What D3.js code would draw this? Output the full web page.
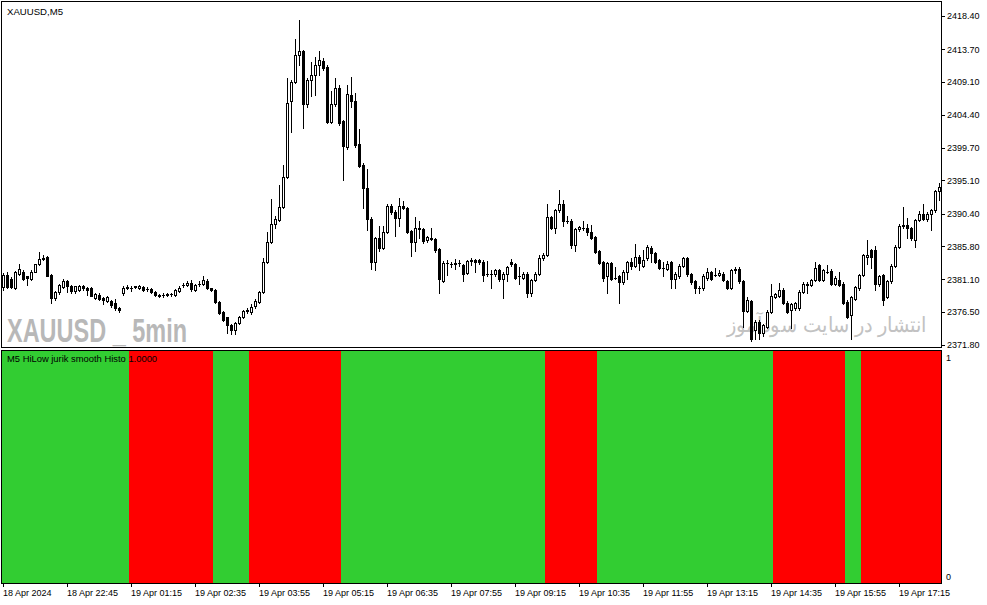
<!DOCTYPE html>
<html><head><meta charset="utf-8">
<script src="https://cdn.jsdelivr.net/npm/d3@7"></script>
<style>
html,body{margin:0;padding:0;background:#fff;}
svg{display:block;}
text{font-family:"Liberation Sans",Arial,sans-serif;}
</style></head>
<body><svg id="c" width="987" height="605"></svg>
<script>
// ---------- DATA ----------
const opens = [2380.0,2381.7,2381.2,2379.9,2381.9,2382.2,2381.5,2381.2,2382.2,2383.2,2384.0,2384.2,2381.7,2378.4,2379.3,2380.0,2380.9,2380.1,2379.4,2379.6,2380.1,2379.8,2379.8,2378.5,2378.9,2378.4,2378.0,2378.0,2377.7,2377.1,
2379.1,2379.8,2379.9,2380.0,2379.8,2380.0,2379.7,2379.7,2379.3,2378.9,2378.9,2378.9,2379.0,2378.9,2379.4,2380.3,2380.3,2380.6,2379.6,2380.5,2380.4,2380.9,2379.8,2379.6,2377.9,2376.5,2375.7,2374.6,2373.9,2374.9,
2375.8,2376.6,2376.4,2377.3,2377.9,2379.3,2383.6,2386.4,2389.0,2389.5,2391.4,2395.6,2406.3,2409.1,2412.9,2413.4,2406.0,2409.3,2410.0,2411.4,2412.0,2411.2,2403.4,2405.9,2408.2,2403.5,2399.9,2407.2,2406.4,2400.3,
2397.3,2394.0,2389.7,2383.5,2386.9,2385.6,2387.8,2391.5,2390.7,2389.8,2391.5,2391.2,2387.9,2386.4,2388.4,2388.2,2386.6,2387.0,2386.8,2385.4,2380.9,2383.4,2383.3,2383.3,2383.4,2383.1,2382.0,2383.7,2383.8,2383.8,
2383.6,2381.8,2381.9,2381.8,2382.4,2381.1,2381.9,2383.6,2383.2,2381.5,2381.3,2381.9,2379.2,2381.0,2381.9,2384.1,2384.6,2389.9,2388.4,2390.9,2391.7,2389.3,2389.4,2386.0,2388.2,2388.3,2388.3,2387.8,2387.1,2385.1,
2383.5,2381.5,2383.4,2381.3,2381.5,2380.7,2382.1,2383.5,2383.0,2384.3,2383.0,2384.1,2385.6,2384.8,2383.8,2382.7,2382.6,2383.5,2381.1,2381.5,2383.0,2384.1,2381.9,2380.8,2379.9,2379.8,2381.3,2382.1,2381.7,2381.7,
2381.9,2380.8,2379.9,2382.4,2382.5,2380.8,2376.6,2378.0,2373.9,2375.1,2373.5,2374.4,2376.5,2378.6,2378.8,2379.6,2377.8,2376.7,2377.0,2377.0,2379.3,2380.5,2380.3,2381.0,2383.1,2381.0,2382.2,2382.3,2380.5,2381.0,
2380.5,2377.9,2376.0,2378.3,2379.8,2381.7,2384.3,2385.2,2385.2,2380.4,2381.7,2378.6,2380.8,2383.0,2385.7,2388.7,2388.8,2388.3,2386.7,2389.5,2390.3,2389.7,2390.3,2390.9,2393.6];
const highs = [2382.0,2382.2,2381.4,2382.3,2383.2,2382.4,2381.6,2382.4,2383.3,2384.9,2384.5,2384.4,2381.8,2379.5,2380.5,2381.1,2381.0,2380.3,2380.2,2380.3,2380.3,2380.0,2380.0,2379.2,2379.1,2378.6,2378.8,2378.2,2378.3,2377.2,
2380.1,2380.3,2380.2,2380.2,2380.3,2380.2,2380.0,2379.9,2379.4,2379.0,2379.1,2379.1,2379.1,2379.7,2380.1,2380.6,2380.9,2381.0,2380.4,2380.8,2381.6,2381.2,2379.9,2379.7,2378.0,2376.6,2375.8,2374.7,2375.0,2375.9,
2376.8,2377.1,2377.6,2378.3,2379.5,2384.1,2387.8,2392.5,2390.0,2394.5,2397.3,2409.6,2409.3,2415.1,2417.8,2413.6,2409.6,2411.9,2412.6,2413.5,2412.4,2411.4,2407.8,2409.6,2408.6,2403.7,2408.6,2409.7,2407.5,2402.4,
2397.6,2396.7,2389.9,2387.1,2388.7,2388.7,2391.7,2391.7,2390.9,2392.6,2392.2,2391.4,2388.1,2389.9,2389.3,2388.4,2387.3,2388.4,2387.0,2385.6,2383.7,2383.8,2383.6,2384.0,2383.9,2383.3,2383.9,2384.1,2384.0,2384.0,
2383.8,2383.7,2382.4,2382.6,2382.6,2382.1,2383.0,2384.0,2383.4,2382.9,2382.1,2382.1,2381.2,2382.1,2384.5,2384.8,2391.7,2390.1,2391.1,2393.7,2392.3,2390.0,2389.6,2388.4,2388.7,2389.4,2389.0,2388.8,2387.3,2385.3,
2383.7,2383.6,2383.6,2382.9,2381.7,2382.4,2383.7,2384.1,2386.1,2384.5,2385.2,2386.0,2385.8,2385.0,2384.0,2383.5,2383.7,2383.7,2382.1,2383.2,2384.3,2384.3,2382.0,2381.0,2380.2,2381.9,2382.7,2382.3,2382.7,2382.4,
2382.1,2381.0,2382.6,2382.9,2382.9,2381.0,2378.6,2378.2,2375.4,2375.3,2374.8,2376.7,2380.5,2379.2,2380.6,2379.8,2378.0,2377.8,2377.9,2379.6,2380.7,2380.7,2381.2,2383.6,2383.3,2382.6,2383.1,2382.5,2381.5,2382.2,
2380.7,2378.1,2378.8,2380.2,2381.9,2384.7,2386.7,2385.4,2385.8,2381.7,2381.9,2381.0,2383.2,2385.9,2388.9,2391.4,2389.8,2388.5,2389.7,2390.8,2391.7,2390.7,2391.1,2393.8,2394.7];
const lows = [2379.6,2379.8,2379.8,2379.7,2381.7,2381.0,2380.3,2381.0,2382.1,2383.1,2383.8,2381.5,2377.7,2378.2,2379.0,2379.8,2379.3,2379.2,2379.2,2379.4,2379.6,2378.9,2378.7,2378.3,2378.1,2377.6,2377.9,2377.2,2376.7,2376.5,
2378.9,2379.7,2379.5,2379.9,2379.7,2379.5,2379.4,2379.2,2378.8,2378.6,2378.6,2378.8,2378.8,2378.8,2379.3,2380.0,2380.2,2379.5,2379.5,2380.2,2380.3,2379.7,2379.5,2377.8,2376.2,2375.2,2373.5,2373.3,2373.4,2374.7,
2375.6,2376.3,2376.2,2377.0,2377.7,2379.1,2383.4,2386.2,2388.3,2389.3,2391.2,2395.4,2402.0,2408.9,2411.5,2402.6,2405.5,2407.0,2407.2,2410.0,2410.8,2403.2,2403.2,2405.7,2403.0,2395.2,2399.6,2405.5,2399.8,2397.0,
2391.2,2388.1,2382.6,2382.4,2385.1,2385.4,2387.6,2390.4,2387.2,2388.7,2391.0,2387.6,2384.4,2385.1,2386.9,2386.3,2386.4,2386.6,2385.0,2379.1,2380.7,2381.7,2382.9,2382.6,2383.0,2380.9,2381.8,2383.1,2382.2,2383.3,
2380.8,2381.5,2379.9,2381.6,2380.9,2378.4,2380.9,2383.0,2381.1,2380.4,2381.1,2378.6,2378.8,2380.8,2381.7,2383.9,2384.4,2388.2,2387.6,2390.7,2388.6,2389.1,2385.6,2385.1,2388.0,2388.1,2387.4,2386.8,2384.8,2383.2,
2380.8,2379.2,2381.0,2381.1,2377.8,2380.5,2381.2,2382.6,2382.8,2382.4,2382.8,2383.9,2383.5,2383.4,2382.5,2381.5,2382.4,2379.8,2379.8,2381.3,2382.8,2381.6,2380.5,2379.1,2379.1,2379.6,2381.0,2381.0,2381.5,2381.5,
2380.8,2379.7,2379.7,2382.0,2380.6,2374.4,2376.4,2372.3,2372.7,2372.7,2373.0,2374.2,2376.3,2378.4,2378.6,2377.6,2376.3,2374.2,2376.8,2376.8,2379.1,2379.1,2380.1,2380.8,2380.8,2380.8,2382.0,2380.3,2380.3,2380.1,
2377.6,2375.6,2372.7,2378.1,2379.6,2381.5,2383.2,2382.7,2379.6,2380.2,2377.5,2378.4,2380.6,2382.8,2385.5,2388.4,2386.9,2386.7,2385.7,2389.3,2389.5,2389.3,2388.1,2390.7,2392.3];
const closes = [2381.7,2380.0,2380.0,2382.1,2382.5,2381.2,2381.3,2382.2,2383.2,2384.0,2384.1,2381.6,2378.4,2379.3,2380.3,2380.8,2380.1,2379.4,2380.1,2380.1,2379.8,2379.6,2378.8,2379.0,2378.3,2378.2,2378.6,2377.4,2377.0,2376.7,
2379.8,2380.0,2379.9,2380.1,2380.1,2379.6,2379.7,2379.3,2378.9,2378.8,2378.9,2379.0,2379.0,2379.6,2379.9,2380.3,2380.6,2379.7,2380.3,2380.5,2381.0,2379.8,2379.6,2377.9,2376.3,2375.3,2374.6,2373.9,2374.9,2375.7,
2376.6,2376.7,2377.2,2378.0,2379.3,2383.6,2386.4,2389.0,2389.7,2391.4,2395.6,2406.1,2409.1,2412.9,2413.4,2406.0,2409.3,2410.0,2411.5,2412.2,2411.1,2403.4,2405.9,2408.2,2403.3,2400.0,2407.3,2406.4,2400.1,2397.2,
2394.0,2389.7,2383.5,2386.9,2385.6,2387.8,2391.5,2390.6,2389.8,2391.5,2391.2,2387.8,2386.4,2388.4,2388.2,2386.5,2387.1,2386.8,2385.2,2381.1,2383.4,2383.4,2383.2,2383.4,2383.4,2381.9,2383.7,2383.8,2383.6,2383.5,
2381.7,2381.8,2381.9,2382.4,2381.1,2381.9,2382.8,2383.2,2381.3,2381.5,2381.9,2379.1,2381.0,2381.9,2384.1,2384.6,2389.9,2388.4,2390.9,2391.7,2389.3,2389.3,2386.0,2388.2,2388.5,2388.3,2387.8,2387.0,2385.0,2383.4,
2381.3,2383.4,2381.2,2381.3,2380.7,2382.1,2383.5,2383.0,2384.2,2383.4,2383.9,2385.7,2384.8,2383.6,2382.7,2382.7,2383.2,2381.1,2381.9,2383.0,2384.1,2381.8,2380.7,2379.8,2379.9,2381.6,2382.1,2381.2,2381.7,2382.0,
2381.0,2379.9,2382.4,2382.5,2380.8,2376.6,2378.2,2372.7,2375.1,2373.5,2374.6,2376.5,2378.8,2379.0,2379.6,2377.8,2376.5,2377.6,2377.7,2379.3,2380.5,2380.3,2381.0,2382.7,2381.0,2382.4,2382.2,2380.5,2381.3,2380.3,
2377.8,2375.8,2378.6,2380.0,2381.7,2384.5,2384.6,2384.3,2380.4,2381.5,2378.2,2380.8,2383.0,2385.7,2388.7,2388.8,2388.3,2386.9,2389.5,2390.3,2389.7,2390.3,2390.9,2393.6,2394.2];

const priceTicks = [2418.40,2413.70,2409.10,2404.40,2399.70,2395.10,2390.40,2385.80,2381.10,2376.50,2371.80];
const timeTickBars = [0,16,32,48,64,80,96,112,128,144,160,176,192,208,224];
const timeLabels = ["18 Apr 2024","18 Apr 22:45","19 Apr 01:15","19 Apr 02:35","19 Apr 03:55","19 Apr 05:15","19 Apr 06:35","19 Apr 07:55","19 Apr 09:15","19 Apr 10:35","19 Apr 11:55","19 Apr 13:15","19 Apr 14:35","19 Apr 15:55","19 Apr 17:15"];
// indicator: run-length of states (1 = up/green, 0 = down/red), each bar value 1
const histoStates  = [1,0,1,0,1,0,1,0,1,0];
const histoLengths = [32,21,9,23,51,13,44,18,4,20];
const histoTicks = [0,1];
const symbolTitle = "XAUUSD,M5";
const indicatorTitle = "M5 HiLow jurik smooth Histo 1.0000";

// ---------- CHART ----------
const svg = d3.select("#c");
const N = opens.length;
const bars = d3.range(N).map(i => ({i, o: opens[i], h: highs[i], l: lows[i], c: closes[i]}));
const histo = [];
histoStates.forEach((s, k) => { for (let j = 0; j < histoLengths[k]; j++) histo.push({i: histo.length, s, v: 1}); });

const x = d3.scaleBand().domain(d3.range(N)).range([1, 941]).padding(0);
const y = d3.scaleLinear().domain([2371.51, 2420.38]).range([347, 2]);
const yH = d3.scaleLinear().domain([0, 1]).range([583, 351]);

svg.append("rect").attr("width", 987).attr("height", 605).attr("fill", "#fff");

const defs = svg.append("defs");
defs.append("clipPath").attr("id", "cm").append("rect").attr("x", 2).attr("y", 2).attr("width", 939).attr("height", 345);
defs.append("clipPath").attr("id", "ci").append("rect").attr("x", 2).attr("y", 351).attr("width", 939).attr("height", 232);

// watermarks
const wm = svg.append("g").attr("clip-path", "url(#cm)");
wm.append("text").attr("x", 7).attr("y", 341.5)
  .attr("font-family", "'Liberation Sans Narrow','Liberation Sans',Arial,sans-serif")
  .attr("font-weight", "bold").attr("font-size", 33).attr("fill", "#b8b8b8")
  .attr("textLength", 180).attr("lengthAdjust", "spacingAndGlyphs")
  .text("XAUUSD _ 5min");
wm.append("text").attr("x", 827).attr("y", 332).attr("text-anchor", "middle")
  .attr("font-family", "'DejaVu Sans',sans-serif").attr("font-size", 21).attr("fill", "#c2c2c2")
  .attr("textLength", 200).attr("lengthAdjust", "spacingAndGlyphs")
  .text("انتشار در سایت سودآموز");

// candles
const cg = svg.append("g").attr("clip-path", "url(#cm)").attr("shape-rendering", "crispEdges");
cg.selectAll("rect.wick").data(bars).join("rect").attr("class", "wick")
  .attr("x", d => x(d.i) + 2)
  .attr("y", d => Math.round(y(d.h)))
  .attr("width", 1)
  .attr("height", d => Math.max(1, Math.round(y(d.l)) - Math.round(y(d.h)) + 1))
  .attr("fill", "#000");
cg.selectAll("rect.body").data(bars).join("rect").attr("class", "body")
  .each(function(d) {
    const t = Math.round(y(Math.max(d.o, d.c))), b = Math.round(y(Math.min(d.o, d.c)));
    const s = d3.select(this);
    if (b - t < 1) {
      s.attr("x", x(d.i) + 1).attr("y", t).attr("width", 3).attr("height", 1).attr("fill", "#000");
    } else if (d.c > d.o) {
      s.attr("x", x(d.i) + 1.5).attr("y", t + 0.5).attr("width", 2).attr("height", b - t)
       .attr("fill", "#fff").attr("stroke", "#000").attr("stroke-width", 1).attr("shape-rendering", "auto");
    } else {
      s.attr("x", x(d.i) + 1).attr("y", t).attr("width", 3).attr("height", b - t + 1).attr("fill", "#000");
    }
  });

// indicator histogram
const hg = svg.append("g").attr("clip-path", "url(#ci)").attr("shape-rendering", "crispEdges");
hg.selectAll("rect").data(histo).join("rect")
  .attr("x", d => x(d.i)).attr("width", x.bandwidth())
  .attr("y", d => yH(d.v)).attr("height", d => yH(0) - yH(d.v))
  .attr("fill", d => d.s === 1 ? "#32cd32" : "#ff0000");

// frames
svg.append("rect").attr("x", 1.5).attr("y", 1.5).attr("width", 940).attr("height", 346)
  .attr("fill", "none").attr("stroke", "#000");
svg.append("rect").attr("x", 1.5).attr("y", 350.5).attr("width", 940).attr("height", 233)
  .attr("fill", "none").attr("stroke", "#000");

// price axis
const pa = svg.append("g").attr("transform", "translate(941,0)")
  .call(d3.axisRight(y).tickValues(priceTicks).tickFormat(d3.format(".2f")).tickSize(4).tickPadding(2));
pa.select(".domain").remove();
pa.selectAll("line").attr("shape-rendering", "crispEdges");
pa.selectAll("text").attr("font-size", 9).attr("font-family", "'Liberation Sans',Arial,sans-serif").attr("fill", "#000");

// indicator axis
const ia = svg.append("g").attr("transform", "translate(941,0)")
  .call(d3.axisRight(yH).tickValues(histoTicks).tickFormat(d3.format("d")).tickSize(0).tickPadding(5));
ia.select(".domain").remove();
ia.selectAll("text").attr("font-size", 9).attr("font-family", "'Liberation Sans',Arial,sans-serif").attr("fill", "#000")
  .attr("y", d => d === 1 ? 6.5 : -6);

// time axis
const ta = svg.append("g").attr("transform", "translate(0,583)")
  .call(d3.axisBottom(x).tickValues(timeTickBars).tickFormat((d, k) => timeLabels[k]).tickSize(4).tickPadding(3));
ta.select(".domain").remove();
ta.selectAll("line").attr("shape-rendering", "crispEdges");
ta.selectAll("text").attr("font-size", 9).attr("font-family", "'Liberation Sans',Arial,sans-serif").attr("fill", "#000")
  .attr("text-anchor", "start").attr("x", 0);

// titles
svg.append("text").attr("x", 7).attr("y", 15).attr("font-size", 9.6).attr("fill", "#000").text(symbolTitle);
svg.append("text").attr("x", 7).attr("y", 362).attr("font-size", 9.4).attr("fill", "#000").text(indicatorTitle);
</script>
</body></html>
